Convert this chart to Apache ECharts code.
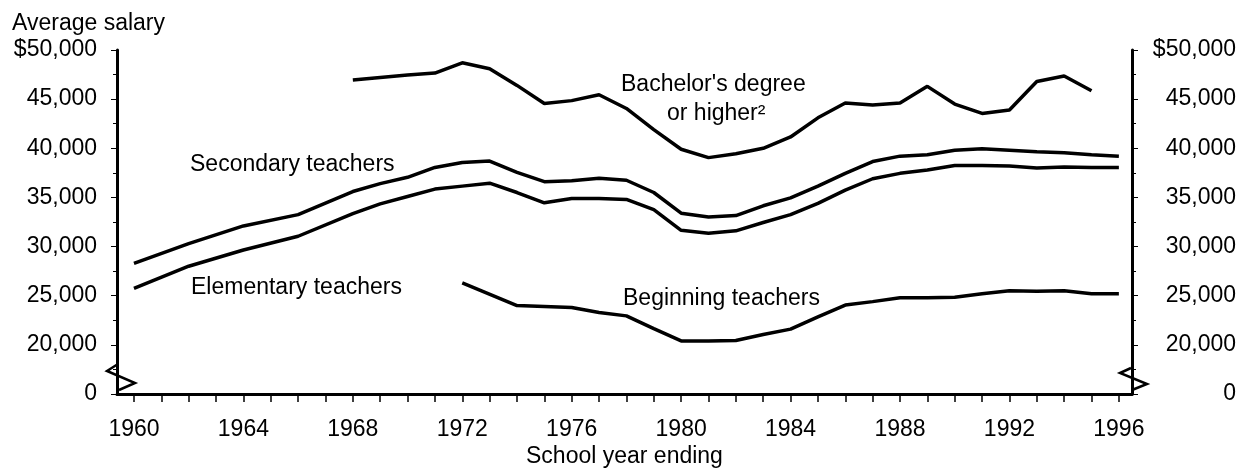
<!DOCTYPE html>
<html>
<head>
<meta charset="utf-8">
<script src="https://cdn.jsdelivr.net/npm/echarts@6/dist/echarts.min.js"></script>
<style>
  html, body { margin: 0; padding: 0; background: #fff; }
  #chart { width: 1246px; height: 469px; }
</style>
</head>
<body>
<div id="chart"></div>
<script>
  const secYears = [1960, 1962, 1964, 1966, 1968, 1969, 1970, 1971, 1972, 1973, 1974, 1975, 1976, 1977, 1978, 1979, 1980, 1981, 1982, 1983, 1984, 1985, 1986, 1987, 1988, 1989, 1990, 1991, 1992, 1993, 1994, 1995, 1996]
  const secondary = [28300, 30300, 32100, 33250, 35600, 36400, 37050, 38050, 38550, 38700, 37550, 36600, 36700, 36950, 36750, 35500, 33400, 33000, 33150, 34150, 34950, 36150, 37450, 38650, 39200, 39350, 39800, 39950, 39800, 39650, 39550, 39350, 39200]

  const elemYears = secYears
  const elementary = [25750, 28000, 29650, 31050, 33350, 34350, 35100, 35850, 36150, 36450, 35500, 34450, 34900, 34900, 34800, 33750, 31650, 31350, 31600, 32450, 33250, 34400, 35750, 36900, 37450, 37800, 38250, 38250, 38200, 38000, 38100, 38050, 38050]

  const bachYears = [1968, 1970, 1971, 1972, 1973, 1974, 1975, 1976, 1977, 1978, 1979, 1980, 1981, 1982, 1983, 1984, 1985, 1986, 1987, 1988, 1989, 1990, 1991, 1992, 1993, 1994, 1995]
  const bachelors = [46950, 47450, 47650, 48700, 48100, 46400, 44550, 44850, 45450, 44050, 41900, 39900, 39050, 39450, 40000, 41150, 43100, 44600, 44400, 44600, 46300, 44500, 43550, 43900, 46800, 47350, 45850]

  const begYears = [1972, 1974, 1975, 1976, 1977, 1978, 1979, 1980, 1981, 1982, 1983, 1984, 1985, 1986, 1987, 1988, 1989, 1990, 1991, 1992, 1993, 1994, 1995, 1996]
  const beginning = [26300, 24000, 23900, 23800, 23300, 22950, 21650, 20400, 20400, 20450, 21050, 21600, 22850, 24050, 24400, 24800, 24800, 24850, 25200, 25500, 25450, 25500, 25200, 25200]

  const yearLabels = [1960, 1964, 1968, 1972, 1976, 1980, 1984, 1988, 1992, 1996]
  const yearTicks = []
  for (let y = 1960; y <= 1996; y++) yearTicks.push(y)

  // axis is broken: the bottom tick stands for 0
  const breakValue = 15000

  const font = '"Liberation Sans", Arial, sans-serif'
  const ink = "#000"

  const pairs = (xs, ys) => xs.map((x, i) => [x, ys[i]])

  function salaryLabel(v) {
    if (v === breakValue) return "0"
    const s = v.toLocaleString("en-US")
    return v === 50000 ? "$" + s : s
  }

  function yAxis(position) {
    return {
      type: "value",
      position,
      min: breakValue,
      max: 50000,
      interval: 5000,
      axisLine: { show: true, lineStyle: { color: ink, width: 3 } },
      axisTick: { show: true, length: 6, lineStyle: { color: ink, width: 1 } },
      minorTick: { show: true, splitNumber: 2, length: 4, lineStyle: { color: ink, width: 1 } },
      splitLine: { show: false },
      axisLabel: {
        color: ink, fontFamily: font, fontSize: 23,
        align: "right",
        margin: position === "left" ? 20 : 104,
        formatter: v => salaryLabel(v)
      }
    }
  }

  function line(name, xs, ys) {
    return {
      name, type: "line",
      data: pairs(xs, ys),
      showSymbol: false,
      lineStyle: { color: ink, width: 3.5 },
      silent: true
    }
  }

  function note(text, x, y) {
    return {
      type: "text", left: x, top: y - 12,
      style: { text, fill: ink, font: `23px ${font}` }
    }
  }

  function breakMark(points) {
    return {
      type: "polyline",
      shape: { points },
      style: { stroke: ink, lineWidth: 2.5, fill: null }
    }
  }

  const chart = echarts.init(document.getElementById("chart"))
  chart.setOption({
    animation: false,
    backgroundColor: "#fff",
    grid: { left: 117, right: 114, top: 50, bottom: 75 },
    xAxis: {
      type: "value",
      min: 1959.38,
      max: 1996.48,
      axisLine: { show: true, onZero: false, lineStyle: { color: ink, width: 3 } },
      axisTick: { show: true, length: 8, customValues: yearTicks, lineStyle: { color: ink, width: 1.5 } },
      splitLine: { show: false },
      axisLabel: {
        color: ink, fontFamily: font, fontSize: 23, margin: 24,
        customValues: yearLabels,
        formatter: v => String(v)
      }
    },
    yAxis: [yAxis("left"), yAxis("right")],
    series: [
      line("Secondary teachers", secYears, secondary),
      line("Elementary teachers", elemYears, elementary),
      line("Bachelor's degree or higher", bachYears, bachelors),
      line("Beginning teachers", begYears, beginning)
    ],
    graphic: [
      note("Average salary", 12, 24),
      note("Secondary teachers", 190, 165),
      note("Elementary teachers", 191, 288),
      note("Bachelor's degree", 621, 85),
      note("or higher²", 667, 114),
      note("Beginning teachers", 623, 299),
      note("School year ending", 526, 457),
      breakMark([[118, 364], [107, 371], [135, 383], [119, 390]]),
      breakMark([[1131, 368], [1120, 373], [1147, 384], [1132, 390]])
    ]
  })
</script>
</body>
</html>
